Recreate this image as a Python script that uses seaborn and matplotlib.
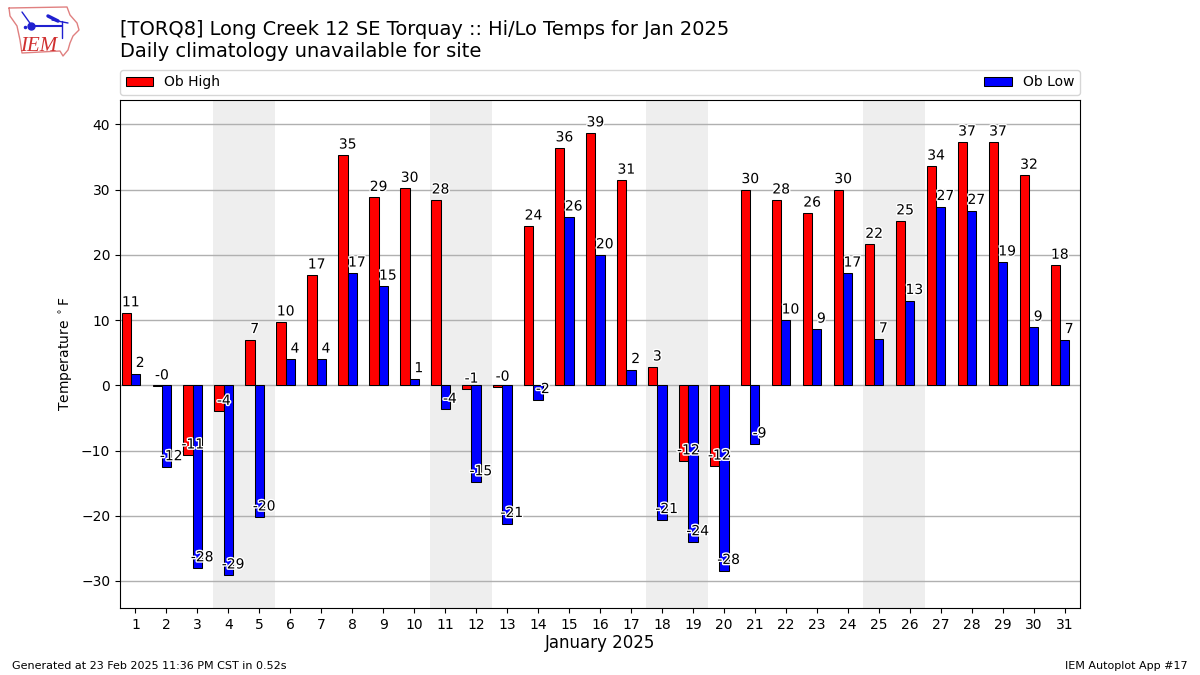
import matplotlib
matplotlib.use('Agg')
import matplotlib.pyplot as plt
import matplotlib.patheffects as pe
from matplotlib.patches import Patch
import pandas as pd
import seaborn as sns

days = list(range(1, 32))
ob_high = [11.1, -0.1, -10.7, -4, 7, 9.7, 16.9, 35.3, 28.8, 30.2, 28.4, -0.6, -0.3, 24.4, 36.4, 38.7,
           31.45, 2.8, -11.6, -12.4, 30, 28.4, 26.4, 30, 21.6, 25.2, 33.6, 37.3, 37.3, 32.2, 18.4]
ob_low = [1.8, -12.5, -28, -29.1, -20.2, 4, 4, 17.2, 15.2, 1, -3.7, -14.8, -21.2, -2.2, 25.8, 20,
          2.4, -20.6, -24, -28.4, -9, 10, 8.6, 17.2, 7.1, 13, 27.4, 26.8, 18.9, 8.9, 7]
weekends = [(3.5, 5.5), (10.5, 12.5), (17.5, 19.5), (24.5, 26.5)]

title = "[TORQ8] Long Creek 12 SE Torquay :: Hi/Lo Temps for Jan 2025\nDaily climatology unavailable for site"

# outline of the IEM logo, pixels of the 1200x675 figure
logo_x = [9, 67, 70, 77, 79, 73, 70, 68, 63, 60, 22, 20, 17, 10, 9]
logo_y = [8, 7, 15, 23, 30, 36, 43, 50, 56, 51, 53, 40, 26, 16, 8]

sns.set_style('white')
plt.rcParams['font.family'] = ['DejaVu Sans']
plt.rcParams['text.color'] = 'k'
plt.rcParams['axes.labelcolor'] = 'k'
plt.rcParams['xtick.color'] = 'k'
plt.rcParams['ytick.color'] = 'k'

df = pd.DataFrame({'day': days, 'high': ob_high, 'low': ob_low})

fig = plt.figure(figsize=(12, 6.75), dpi=100)
ax = fig.add_axes([120 / 1200, 1 - 608 / 675, 960 / 1200, 508 / 675])

for start, end in weekends:
    ax.axvspan(start, end, color='#eeeeee', lw=0, zorder=0)

ax.set_axisbelow(True)
ax.grid(axis='y', color='#b0b0b0', lw=1)

sns.barplot(x=df['day'] - 0.3, y=df['high'], color='red', saturation=1, width=0.3, native_scale=True,
            edgecolor='k', linewidth=0.75, errorbar=None, ax=ax, zorder=2)
sns.barplot(x=df['day'].astype(float), y=df['low'], color='blue', saturation=1, width=0.3, native_scale=True,
            edgecolor='k', linewidth=0.75, errorbar=None, ax=ax, zorder=2)

# value labels, sitting on the right edge of each bar
for offset, col in [(-0.15, 'high'), (0.15, 'low')]:
    for day, val in zip(df['day'], df[col]):
        t = ax.text(day + offset, val + 0.55, '%.0f' % val, ha='center', va='bottom', fontsize=10, zorder=5)
        t.set_path_effects([pe.withStroke(linewidth=2, foreground='white')])

ax.set_xlim(0.5, 31.5)
ax.set_ylim(-34.15, 43.75)
ax.set_xticks(days)
ax.set_xticklabels([str(d) for d in days], fontsize=10)
ax.set_yticks([-30, -20, -10, 0, 10, 20, 30, 40])
ax.tick_params(axis='both', direction='out', length=3.5, width=0.8, left=True, bottom=True, labelsize=10, pad=3.5)
ax.set_xlabel('January 2025', fontsize=12, labelpad=2)
ax.set_ylabel(r'Temperature $^\circ$F', fontsize=10)
for spine in ax.spines.values():
    spine.set_color('k')
    spine.set_linewidth(0.8)

handles = [Patch(facecolor='red', edgecolor='k', lw=0.75, label='Ob High'),
           Patch(facecolor='blue', edgecolor='k', lw=0.75, label='Ob Low')]
ax.legend(handles=handles, loc='lower left', bbox_to_anchor=(0, 1.01, 1, 0.05), mode='expand', ncol=2,
          borderaxespad=0, fontsize=10, frameon=True)

fig.text(120 / 1200, 1 - 61 / 675, title, fontsize=13.97, ha='left', va='bottom', linespacing=1.2)
fig.text(12 / 1200, 1 - 671 / 675, 'Generated at 23 Feb 2025 11:36 PM CST in 0.52s', fontsize=8, ha='left', va='bottom')
fig.text(1188 / 1200, 1 - 671 / 675, 'IEM Autoplot App #17', fontsize=8, ha='right', va='bottom')

# small logo drawn in figure pixels
logo = fig.add_axes([0, 0, 1, 1], facecolor='none')
logo.set_xlim(0, 1200)
logo.set_ylim(675, 0)
logo.axis('off')
logo.plot(logo_x, logo_y, color='#e08080', lw=1)
logo.plot([32, 62], [26, 26], color='#2020d0', lw=1.5)
logo.plot([22, 32], [12, 26], color='#2020d0', lw=1)
logo.plot([48, 58], [16, 21], color='#2020d0', lw=2.5)
logo.plot([52, 68], [20, 23], color='#2020d0', lw=1)
logo.plot([62, 62], [21, 38], color='#2020d0', lw=1)
logo.plot([31], [26], 'o', color='#2020d0', ms=5)
logo.plot([25], [27], 'o', color='#2020d0', ms=1.5)
logo.text(20, 51, 'IEM', color='#d03030', fontsize=15, family='Liberation Serif', style='italic', va='baseline')

fig.savefig('out.png', dpi=100)
